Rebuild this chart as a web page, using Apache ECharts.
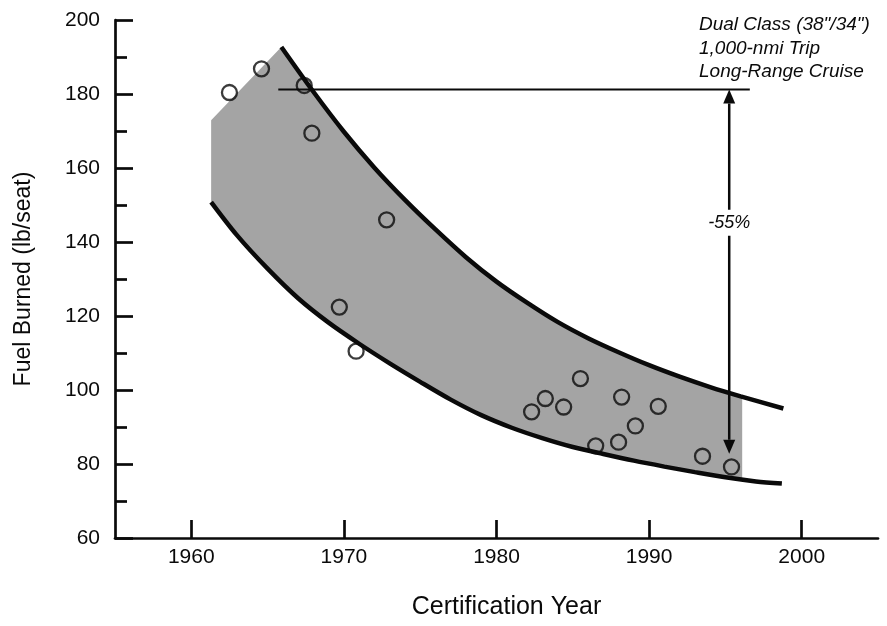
<!DOCTYPE html>
<html>
<head>
<meta charset="utf-8">
<title>Fuel Burned vs Certification Year</title>
<script src="https://cdn.jsdelivr.net/npm/echarts@6/dist/echarts.min.js"></script>
<style>
  html, body { margin: 0; padding: 0; background: #fff; }
  #chart { width: 887px; height: 626px; }
</style>
</head>
<body>
<div id="chart"></div>
<script>
  // individual aircraft (circles)
  var aircraftYears = [1962.5, 1964.6, 1967.4, 1967.9, 1969.7, 1970.8, 1972.8, 1982.3, 1983.2, 1984.4, 1985.5, 1986.5, 1988.0, 1988.2, 1989.1, 1990.6, 1993.5, 1995.4]
  var aircraftFuel = [180.4, 186.8, 182.3, 169.4, 122.4, 110.5, 146.0, 94.1, 97.7, 95.4, 103.1, 84.9, 85.9, 98.1, 90.3, 95.6, 82.1, 79.2]

  // upper and lower trend curves
  var upperYears = [1965.9, 1968, 1970, 1972, 1974, 1976, 1978, 1980, 1982, 1984, 1986, 1988, 1990, 1992, 1994, 1996, 1998.8]
  var upperFuel = [192.7, 180.6, 169.8, 160.1, 151.4, 143.4, 135.9, 129.3, 123.6, 118.4, 114.0, 110.2, 106.7, 103.6, 100.8, 98.3, 95.0]
  var lowerYears = [1961.3, 1963, 1965, 1967, 1969, 1971, 1973, 1975, 1977, 1979, 1981, 1983, 1985, 1987, 1989, 1991, 1993, 1995, 1997, 1998.7]
  var lowerFuel = [150.8, 141.8, 132.8, 124.8, 118.2, 112.5, 107.2, 102.2, 97.4, 93.2, 89.8, 87.0, 84.6, 82.7, 80.9, 79.3, 77.8, 76.4, 75.3, 74.7]

  // shaded band: left edge [year, top], right edge [year, top, bottom]
  var shadeLeft = [1961.3, 172.9]
  var shadeRight = [1996.1, 98.2, 75.8]

  // -55% reference line and arrow
  var refLine = [[1965.7, 181.2], [1996.6, 181.2]]
  var arrow = [1995.25, 181.2, 82.8]
  var arrowLabel = ['-55%', 145.2]

  var xTicks = [1960, 1970, 1980, 1990, 2000]
  var noteLines = ['Dual Class (38"/34")', '1,000-nmi Trip', 'Long-Range Cruise']

  var font = '"Liberation Sans", Arial, Helvetica, sans-serif'
  var ink = '#0a0a0a'

  function pairs(xs, ys) {
    return xs.map(function (x, i) { return [x, ys[i]] })
  }

  var upperPts = pairs(upperYears, upperFuel)
  var lowerPts = pairs(lowerYears, lowerFuel)

  var shadeOutline = [shadeLeft]
    .concat(upperPts.filter(function (p) { return p[0] < shadeRight[0] }))
    .concat([[shadeRight[0], shadeRight[1]], [shadeRight[0], shadeRight[2]]])
    .concat(lowerPts.filter(function (p) { return p[0] < shadeRight[0] }).reverse())

  var chart = echarts.init(document.getElementById('chart'))

  chart.setOption({
    animation: false,
    backgroundColor: '#fff',
    title: {
      text: noteLines.join('\n'),
      left: 699,
      top: 13,
      padding: 0,
      textStyle: {
        fontFamily: font,
        fontStyle: 'italic',
        fontWeight: 'normal',
        fontSize: 19,
        lineHeight: 23.5,
        color: ink
      }
    },
    grid: {
      left: 115,
      right: 9,
      top: 20,
      bottom: 88,
      outerBoundsMode: 'none'
    },
    xAxis: {
      type: 'value',
      min: 1955,
      max: 2005,
      name: 'Certification Year',
      nameLocation: 'middle',
      nameGap: 57,
      nameTextStyle: { fontFamily: font, fontSize: 25, color: ink, padding: [0, 0, 0, 20] },
      axisLine: { lineStyle: { color: ink, width: 2.7 } },
      axisTick: {
        inside: true,
        length: 18,
        customValues: xTicks,
        lineStyle: { color: ink, width: 2.7 }
      },
      axisLabel: {
        customValues: xTicks,
        margin: 9,
        fontFamily: font,
        fontSize: 21,
        color: ink,
        formatter: function (v) { return String(v) }
      },
      splitLine: { show: false }
    },
    yAxis: {
      type: 'value',
      min: 60,
      max: 200,
      interval: 20,
      name: 'Fuel Burned (lb/seat)',
      nameLocation: 'middle',
      nameGap: 80,
      nameTextStyle: { fontFamily: font, fontSize: 23, color: ink },
      axisLine: { show: true, lineStyle: { color: ink, width: 2.7 } },
      axisTick: { show: true, inside: true, length: 18, lineStyle: { color: ink, width: 2.7 } },
      minorTick: { show: true, splitNumber: 2, length: 12, lineStyle: { color: ink, width: 2.7 } },
      axisLabel: { margin: 15, fontFamily: font, fontSize: 21, color: ink },
      splitLine: { show: false }
    },
    series: [
      {
        name: 'band',
        type: 'custom',
        silent: true,
        data: [shadeLeft],
        renderItem: function (params, api) {
          return {
            type: 'polygon',
            shape: { points: shadeOutline.map(function (p) { return api.coord(p) }) },
            style: { fill: '#a4a4a4' }
          }
        }
      },
      {
        name: 'upper',
        type: 'line',
        data: upperPts,
        smooth: 0.3,
        symbol: 'none',
        lineStyle: { color: ink, width: 4.5 }
      },
      {
        name: 'lower',
        type: 'line',
        data: lowerPts,
        smooth: 0.3,
        symbol: 'none',
        lineStyle: { color: ink, width: 4.5 }
      },
      {
        name: 'reduction',
        type: 'custom',
        silent: true,
        data: [[arrow[0], arrow[1]]],
        renderItem: function (params, api) {
          var a = api.coord(refLine[0])
          var b = api.coord(refLine[1])
          var top = api.coord([arrow[0], arrow[1]])
          var bot = api.coord([arrow[0], arrow[2]])
          var lab = api.coord([arrow[0], arrowLabel[1]])
          var hw = 6, hh = 14
          return {
            type: 'group',
            children: [
              { type: 'line', shape: { x1: a[0], y1: a[1], x2: b[0], y2: b[1] }, style: { stroke: ink, lineWidth: 2 } },
              { type: 'line', shape: { x1: top[0], y1: top[1] + hh, x2: bot[0], y2: bot[1] - hh }, style: { stroke: ink, lineWidth: 2.5 } },
              { type: 'polygon', shape: { points: [[top[0], top[1]], [top[0] - hw, top[1] + hh], [top[0] + hw, top[1] + hh]] }, style: { fill: ink } },
              { type: 'polygon', shape: { points: [[bot[0], bot[1]], [bot[0] - hw, bot[1] - hh], [bot[0] + hw, bot[1] - hh]] }, style: { fill: ink } },
              {
                type: 'text',
                x: lab[0],
                y: lab[1],
                style: {
                  text: arrowLabel[0],
                  fill: ink,
                  font: 'italic 18px ' + font,
                  align: 'center',
                  verticalAlign: 'middle',
                  backgroundColor: '#fff',
                  padding: [4, 1]
                }
              }
            ]
          }
        }
      },
      {
        name: 'aircraft',
        type: 'scatter',
        data: pairs(aircraftYears, aircraftFuel),
        symbol: 'circle',
        symbolSize: 15,
        itemStyle: { color: 'rgba(0,0,0,0)', borderColor: ink, borderWidth: 2.3 }
      }
    ]
  })
</script>
</body>
</html>
